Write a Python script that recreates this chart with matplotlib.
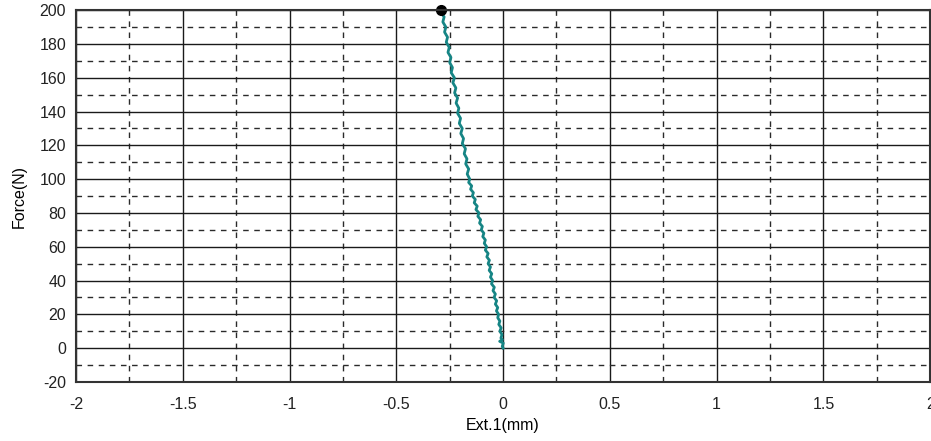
import numpy as np
import matplotlib.pyplot as plt

plt.rcParams['font.family'] = ['Liberation Sans', 'DejaVu Sans']

# Force vs extension readings (jagged trace)
force = [0, 1, 3, 4, 5, 6, 8, 10, 12, 14, 16, 18, 20, 22, 24, 26, 28, 30, 32,
         34, 36, 38, 40, 42, 44, 46, 48, 50, 52, 54, 56, 58, 60, 62, 64, 66,
         68, 70, 72, 74, 76, 78, 80, 82, 84, 86, 88, 90, 92, 94, 96, 98, 100,
         103, 106, 109, 112, 115, 118, 121, 124, 127, 130, 133, 136, 139, 142,
         145, 148, 151, 154, 157, 160, 163, 166, 169, 172, 175, 178, 181, 184,
         187, 190, 193, 196, 198, 200]
ext = [0.0, -0.004, 0.001, -0.016, -0.003, -0.010, -0.005, -0.015, -0.009,
       -0.020, -0.015, -0.025, -0.021, -0.031, -0.025, -0.036, -0.030, -0.042,
       -0.036, -0.047, -0.041, -0.054, -0.049, -0.059, -0.053, -0.065, -0.059,
       -0.070, -0.064, -0.076, -0.070, -0.083, -0.077, -0.088, -0.083, -0.095,
       -0.090, -0.102, -0.097, -0.110, -0.105, -0.118, -0.113, -0.127, -0.121,
       -0.135, -0.130, -0.144, -0.139, -0.152, -0.147, -0.161, -0.156, -0.168,
       -0.161, -0.175, -0.169, -0.182, -0.176, -0.191, -0.185, -0.198, -0.191,
       -0.205, -0.199, -0.213, -0.207, -0.220, -0.213, -0.227, -0.221, -0.235,
       -0.228, -0.243, -0.237, -0.250, -0.244, -0.258, -0.252, -0.266, -0.260,
       -0.274, -0.268, -0.282, -0.276, -0.288, -0.292]

x_ticks = [-2, -1.5, -1, -0.5, 0, 0.5, 1, 1.5, 2]
y_ticks = [-20, 0, 20, 40, 60, 80, 100, 120, 140, 160, 180, 200]

fig = plt.figure(figsize=(9.31, 4.41), dpi=100)
ax = fig.add_axes([0.0816, 0.134, 0.9175, 0.843])

ax.set_xlim(-2, 2)
ax.set_ylim(-20, 200)
ax.set_xticks(x_ticks)
ax.set_xticklabels([str(t) for t in x_ticks])
ax.set_yticks(y_ticks)
ax.set_yticklabels([str(t) for t in y_ticks])
ax.set_xticks(np.arange(-1.75, 2, 0.5), minor=True)
ax.set_yticks(np.arange(-10, 200, 20), minor=True)

ax.grid(which='major', color='#1a1a1a', linewidth=1.0, linestyle='-')
ax.grid(which='minor', color='#2a2a2a', linewidth=1.0, linestyle=(0, (4, 4)))
ax.set_axisbelow(True)
ax.tick_params(which='both', length=0, labelsize=11.5, colors='#222222')
ax.tick_params(axis='x', pad=11)
ax.tick_params(axis='y', pad=7)
for s in ax.spines.values():
    s.set_linewidth(1.5)
    s.set_color('#333333')

ax.plot(ext, force, color='#168585', linewidth=2.0)
ax.plot([ext[-1]], [force[-1]], 'o', color='black', markersize=7, clip_on=False)

ax.set_xlabel('Ext.1(mm)', fontsize=11.5, labelpad=4)
ax.set_ylabel('Force(N)', fontsize=11.5, labelpad=9)

fig.savefig('out.png', dpi=100)
